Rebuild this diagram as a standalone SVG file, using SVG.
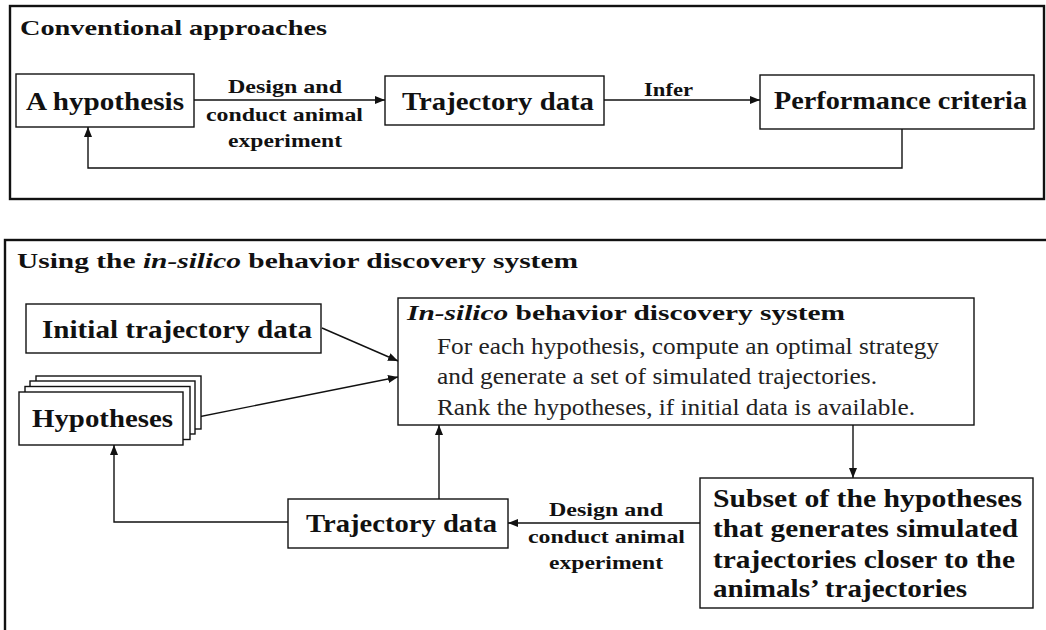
<svg xmlns="http://www.w3.org/2000/svg" width="1046" height="630" viewBox="0 0 1046 630" font-family="'Liberation Serif', 'Times New Roman', serif">
<style>
text{font-family:'Liberation Serif','Times New Roman',serif;fill:#111}
.b{font-weight:bold}
.bi{font-weight:bold;font-style:italic}
.frame{fill:none;stroke:#111;stroke-width:2.4}
.node{fill:#fff;stroke:#111;stroke-width:1.4}
.con{fill:none;stroke:#111;stroke-width:1.4}
.t1{font-size:21px;font-weight:bold}
.n{font-size:25px;font-weight:bold}
.lb{font-size:19px;font-weight:bold}
.body{font-size:23px;fill:#222}
</style>
<defs>
<marker id="ah" viewBox="0 0 10 8" refX="10" refY="4" markerWidth="10" markerHeight="8" markerUnits="userSpaceOnUse" orient="auto">
<path d="M0,0 L10,4 L0,8 z" fill="#111"/>
</marker>
</defs>
<rect x="0" y="0" width="1046" height="630" fill="#fff"/>

<g id="frame-top">
<rect class="frame" x="10" y="6" width="1034" height="193"/>
<text class="t1" x="20" y="35" textLength="307" lengthAdjust="spacingAndGlyphs">Conventional approaches</text>
</g>

<g id="frame-bottom">
<rect class="frame" x="5" y="240" width="1100" height="500"/>
<text class="t1" x="17" y="268" textLength="561" lengthAdjust="spacingAndGlyphs">Using the <tspan class="bi">in-silico</tspan> behavior discovery system</text>
</g>

<g id="connectors">
<line class="con" x1="194" y1="100" x2="385" y2="100" marker-end="url(#ah)"/>
<line class="con" x1="604" y1="100" x2="760" y2="100" marker-end="url(#ah)"/>
<polyline class="con" points="902,129 902,168 88,168 88,127" marker-end="url(#ah)"/>
<line class="con" x1="322" y1="328" x2="398" y2="361" marker-end="url(#ah)"/>
<line class="con" x1="188" y1="419" x2="398" y2="377" marker-end="url(#ah)"/>
<line class="con" x1="853" y1="425" x2="853" y2="478" marker-end="url(#ah)"/>
<line class="con" x1="700" y1="523" x2="508" y2="523" marker-end="url(#ah)"/>
<line class="con" x1="439" y1="499" x2="439" y2="425" marker-end="url(#ah)"/>
<polyline class="con" points="288,522 114,522 114,445" marker-end="url(#ah)"/>
<text class="lb" x="228" y="93" textLength="114" lengthAdjust="spacingAndGlyphs">Design and</text>
<text class="lb" x="206" y="121" textLength="157" lengthAdjust="spacingAndGlyphs">conduct animal</text>
<text class="lb" x="228" y="147" textLength="114" lengthAdjust="spacingAndGlyphs">experiment</text>
<text class="lb" x="644" y="96" textLength="49" lengthAdjust="spacingAndGlyphs">Infer</text>
<text class="lb" x="549" y="516" textLength="114" lengthAdjust="spacingAndGlyphs">Design and</text>
<text class="lb" x="528" y="543" textLength="157" lengthAdjust="spacingAndGlyphs">conduct animal</text>
<text class="lb" x="549" y="569" textLength="114" lengthAdjust="spacingAndGlyphs">experiment</text>
</g>

<g id="node-hypothesis">
<rect class="node" x="16" y="74" width="178" height="53"/>
<text class="n" x="26" y="110" textLength="158" lengthAdjust="spacingAndGlyphs">A hypothesis</text>
</g>

<g id="node-trajectory-top">
<rect class="node" x="385" y="76" width="219" height="49"/>
<text class="n" x="402" y="110" textLength="192" lengthAdjust="spacingAndGlyphs">Trajectory data</text>
</g>

<g id="node-performance">
<rect class="node" x="760" y="75" width="274" height="54"/>
<text class="n" x="774" y="109" textLength="253" lengthAdjust="spacingAndGlyphs">Performance criteria</text>
</g>

<g id="node-initial">
<rect class="node" x="26" y="304" width="295" height="49"/>
<text class="n" x="42" y="338" textLength="270" lengthAdjust="spacingAndGlyphs">Initial trajectory data</text>
</g>

<g id="node-hypotheses">
<rect class="node" x="36" y="376" width="165" height="53"/>
<rect class="node" x="30" y="381" width="165" height="53"/>
<rect class="node" x="25" y="386.5" width="165" height="53"/>
<rect class="node" x="19" y="392" width="164" height="53"/>
<text class="n" x="32" y="427" textLength="141" lengthAdjust="spacingAndGlyphs">Hypotheses</text>
</g>

<g id="node-insilico">
<rect class="node" x="398" y="298" width="576" height="127"/>
<text class="t1" x="407" y="320" textLength="438" lengthAdjust="spacingAndGlyphs"><tspan class="bi">In-silico</tspan> behavior discovery system</text>
<text class="body" x="437" y="354" textLength="502" lengthAdjust="spacingAndGlyphs">For each hypothesis, compute an optimal strategy</text>
<text class="body" x="437" y="384" textLength="440" lengthAdjust="spacingAndGlyphs">and generate a set of simulated trajectories.</text>
<text class="body" x="437" y="415" textLength="478" lengthAdjust="spacingAndGlyphs">Rank the hypotheses, if initial data is available.</text>
</g>

<g id="node-subset">
<rect class="node" x="700" y="478" width="333" height="130"/>
<text class="n" x="713" y="507" textLength="309" lengthAdjust="spacingAndGlyphs">Subset of the hypotheses</text>
<text class="n" x="713" y="537" textLength="305" lengthAdjust="spacingAndGlyphs">that generates simulated</text>
<text class="n" x="713" y="568" textLength="302" lengthAdjust="spacingAndGlyphs">trajectories closer to the</text>
<text class="n" x="713" y="597" textLength="254" lengthAdjust="spacingAndGlyphs">animals’ trajectories</text>
</g>

<g id="node-trajectory-bottom">
<rect class="node" x="288" y="499" width="220" height="49"/>
<text class="n" x="306" y="532" textLength="191" lengthAdjust="spacingAndGlyphs">Trajectory data</text>
</g>
</svg>
